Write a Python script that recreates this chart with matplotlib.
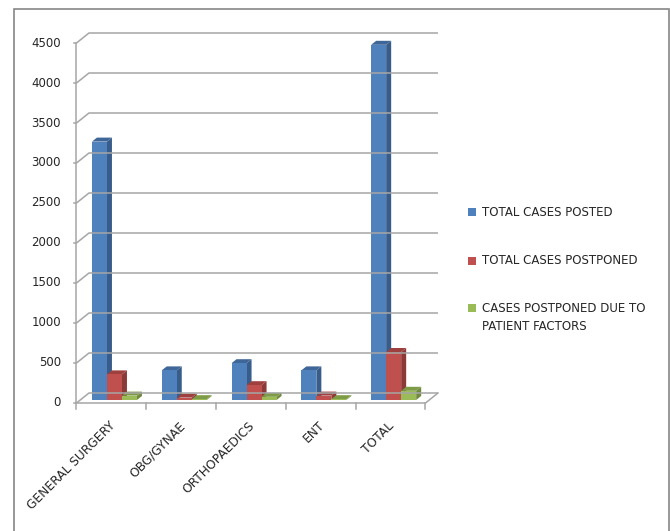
import matplotlib
matplotlib.use('Agg')
import matplotlib.pyplot as plt
from matplotlib.patches import Polygon, Rectangle

# -----------------------------
# data
# -----------------------------
categories = ['GENERAL SURGERY', 'OBG/GYNAE', 'ORTHOPAEDICS', 'ENT', 'TOTAL']
cases_posted = [3230, 370, 460, 370, 4440]
cases_postponed = [320, 30, 185, 55, 600]
postponed_patient = [55, 10, 40, 10, 115]
series_labels = ['TOTAL CASES POSTED', 'TOTAL CASES POSTPONED',
                 'CASES POSTPONED DUE TO\nPATIENT FACTORS']
y_ticks = [0, 500, 1000, 1500, 2000, 2500, 3000, 3500, 4000, 4500]

# face colours: front, side, top
colors = [
    ('#4F81BD', '#385D8A', '#3E6698'),
    ('#C0504D', '#8C3A38', '#9E413E'),
    ('#9BBB59', '#718A40', '#7E9C46'),
]
grid_col = '#A6A6A6'
txt_col = '#262626'
plt.rcParams['font.family'] = ['DejaVu Sans']
FS = 8.5

# 3d-ish geometry (in data units)
DX, DY = 0.179, 125       # depth of the walls
BDX, BDY = 0.072, 50      # depth of a bar
SHIFT = 0.3               # bars sit this far back in the floor
BW = 0.215                # bar width

fig = plt.figure(figsize=(6.7, 5.31), dpi=100)
ax = fig.add_axes([60 / 670, (531 - 420) / 531, 390 / 670, 400 / 531])
ax.set_xlim(-0.736, 4.851)
ax.set_ylim(-212.5, 4787.5)
ax.axis('off')

n = len(categories)
x_left, x_right = -0.5, n - 0.5

# back wall gridlines + left wall diagonals
for v in y_ticks:
    ax.plot([x_left, x_left + DX, x_right + DX], [v, v + DY, v + DY],
            color=grid_col, lw=1.1, solid_capstyle='butt')
    ax.plot([x_left - 0.04, x_left], [v, v], color=grid_col, lw=1.1)
    ax.text(x_left - 0.22, v, str(v), ha='right', va='center', fontsize=FS, color=txt_col)

# front axis + floor
ax.plot([x_left, x_left], [0, y_ticks[-1]], color=grid_col, lw=1.1)
ax.plot([x_left, x_right, x_right + DX], [0, 0, DY], color=grid_col, lw=1.1)
for k in range(n + 1):
    ax.plot([x_left + k, x_left + k], [0, -75], color=grid_col, lw=1.1)


def draw_bar(x0, h, cols):
    x1 = x0 + BW
    sx, sy = SHIFT * DX, SHIFT * DY
    front = [(x0 + sx, sy), (x1 + sx, sy), (x1 + sx, h + sy), (x0 + sx, h + sy)]
    side = [(x1 + sx, sy), (x1 + sx + BDX, sy + BDY), (x1 + sx + BDX, h + sy + BDY), (x1 + sx, h + sy)]
    top = [(x0 + sx, h + sy), (x1 + sx, h + sy), (x1 + sx + BDX, h + sy + BDY), (x0 + sx + BDX, h + sy + BDY)]
    ax.add_patch(Polygon(side, closed=True, facecolor=cols[1], edgecolor='none'))
    ax.add_patch(Polygon(top, closed=True, facecolor=cols[2], edgecolor='none'))
    ax.add_patch(Polygon(front, closed=True, facecolor=cols[0], edgecolor='none'))


series = [cases_posted, cases_postponed, postponed_patient]
for i in range(n):
    start = i - 1.5 * BW - 0.01
    for s, vals in enumerate(series):
        draw_bar(start + s * BW, vals[i], colors[s])

# category labels
for i, name in enumerate(categories):
    ax.text(i - 0.04, -200, name, rotation=45, rotation_mode='anchor',
            ha='right', va='top', fontsize=8.8, color=txt_col)

# legend drawn by hand, Excel style
leg_rows = [212, 261, 308]
for lab, row, cols in zip(series_labels, leg_rows, colors):
    fig.patches.append(Rectangle((468 / 670, (531 - row - 4) / 531), 8 / 670, 8 / 531,
                                 transform=fig.transFigure, facecolor=cols[0], edgecolor='none'))
    fig.text(482 / 670, (531 - row) / 531, lab.split('\n')[0], ha='left', va='center',
             fontsize=FS, color=txt_col)
    if '\n' in lab:
        fig.text(482 / 670, (531 - row - 19) / 531, lab.split('\n')[1], ha='left', va='center',
                 fontsize=FS, color=txt_col)

# chart border
fig.patches.append(Rectangle((14 / 670, -0.02), 655 / 670, (531 - 9) / 531 + 0.02,
                             transform=fig.transFigure, facecolor='none',
                             edgecolor='#868686', lw=1.2))

plt.savefig('out.png', dpi=100)
